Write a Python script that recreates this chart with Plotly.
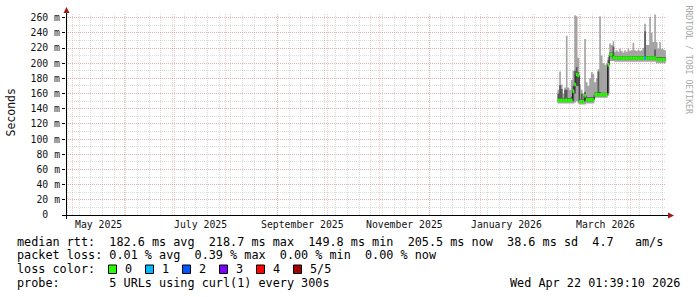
import datetime as dt
import plotly.graph_objects as go

# ---------------- data ----------------
DATA_START = dt.date(2026, 2, 16)   # first daily sample
RANGE_START = dt.datetime(2025, 4, 27, 1, 39, 10)
RANGE_END = dt.datetime(2026, 4, 22, 1, 39, 10)

median_ms = [151, 151, 151, 151, 151, 151, 151, 151, 151, 163,
             172, 185, 184, 149.5, 149.5, 149.5, 157, 151.7, 151.7, 151.7,
             151.7, 151.7, 158.5, 158.5, 158.5, 158.5, 158.5, 158.5, 158.5, 158.5,
             198, 211, 211, 207, 206.7, 206.7, 206.7, 206.7, 206.7, 206.7,
             206.7, 206.7, 206.7, 206.7, 206.7, 206.7, 206.7, 206.7, 206.7, 206.7,
             206.7, 206.7, 206.7, 206.7, 206.7, 206.7, 206.7, 206.7, 206.7, 205,
             205, 205, 205, 205, 205]
ping_min_ms = [147, 147, 147, 147, 147, 147, 147, 147, 147, 147,
               148, 150, 147, 145.5, 145.5, 145.5, 145.5, 147, 147, 147,
               147, 147, 154.5, 154.5, 154.5, 154.5, 154.5, 154.5, 154.5, 154.5,
               157, 203, 203, 203, 202, 202, 202, 202, 202, 202,
               202, 202, 202, 202, 202, 202, 202, 202, 202, 202,
               202, 202, 202, 202, 202, 202, 202, 202, 202, 200,
               200, 200, 200, 200, 200]
ping_max_ms = [165, 189, 172, 160, 168, 236, 168, 165, 178, 190,
               263, 262, 207, 172, 165, 160, 232, 175, 170, 180,
               188, 186, 175, 180, 192, 262, 210, 200, 198, 199,
               208, 226, 224, 229, 215, 217, 215, 219, 216, 214,
               217, 215, 219, 216, 217, 227, 217, 216, 218, 216,
               217, 220, 252, 224, 224, 261, 240, 228, 264, 228,
               219, 228, 219, 218, 217]
inner_lo_ms = [149, 149, 149, 149, 149, 149, 149, 149, 149, 150,
               160, 170, 170, 147.5, 147.5, 147.5, 150, 149.5, 149.5, 149.5,
               149.5, 149.5, 156.5, 156.5, 156.5, 156.5, 156.5, 156.5, 156.5, 156.5,
               160, 208, 208, 204.5, 204.5, 204.5, 204.5, 204.5, 204.5, 204.5,
               204.5, 204.5, 204.5, 204.5, 204.5, 204.5, 204.5, 204.5, 204.5, 204.5,
               204.5, 204.5, 205, 204.5, 204.5, 204.5, 204.5, 204.5, 204.5, 203,
               203, 203, 203, 203, 203]
inner_hi_ms = [160, 171, 166, 154, 165, 165, 154, 154, 156, 170,
               190, 195, 188, 152.5, 160, 152.5, 162, 155, 155, 155,
               155, 155, 161.5, 161.5, 189, 162, 161, 161, 161, 161,
               204, 214, 214, 222, 209.5, 209.5, 209.5, 209.5, 209.5, 209.5,
               209.5, 209.5, 209.5, 209.5, 209.5, 209.5, 209.5, 209.5, 209.5, 209.5,
               209.5, 209.5, 242, 209.5, 209.5, 209.5, 209.5, 209.5, 218, 208,
               208, 208, 208, 208, 208]
loss_count = [0] * 52 + [1] + [0] * 12

y_ticks = list(range(0, 261, 20))
y_tick_text = ["0\u00a0\u00a0"] + [f"{v}\u00a0m" for v in y_ticks[1:]]
month_labels = [("2025-05", "May 2025"), ("2025-07", "July 2025"), ("2025-09", "September 2025"),
                ("2025-11", "November 2025"), ("2026-01", "January 2026"), ("2026-03", "March 2026")]
loss_colors = ["#26ff00", "#00b8ff", "#0059ff", "#7e00ff", "#ff0000", "#a10000"]
loss_names = ["0", "1", "2", "3", "4", "5/5"]

legend_lines = [
    "median rtt:  182.6 ms avg  218.7 ms max  149.8 ms min  205.5 ms now  38.6 ms sd  4.7   am/s",
    "packet loss: 0.01 % avg  0.39 % max  0.00 % min  0.00 % now",
    "loss color:",
    "probe:       5 URLs using curl(1) every 300s",
]
stamp = "Wed Apr 22 01:39:10 2026"

# ---------------- geometry ----------------
W, H = 697, 297
L, R, T, B = 66, 666, 14, 215
Y_MAX = 264.8


def px(x):
    return (x - L) / (R - L)


def py(y):
    return (B - y) / (B - T)


MONO = "DejaVu Sans Mono"

n = len(median_ms)
days = [dt.datetime.combine(DATA_START, dt.time()) + dt.timedelta(days=i) for i in range(n + 1)]


def ext(v):
    return list(v) + [v[-1]]


fig = go.Figure()
# smoke outer
fig.add_trace(go.Scatter(x=days, y=ext(ping_min_ms), mode="lines",
                         line=dict(width=0, shape="hv"), hoverinfo="skip", showlegend=False))
fig.add_trace(go.Scatter(x=days, y=ext(ping_max_ms), mode="lines",
                         line=dict(width=0, shape="hv"), fill="tonexty", fillcolor="#a4a4a4",
                         hoverinfo="skip", showlegend=False))
# smoke inner
fig.add_trace(go.Scatter(x=days, y=ext(inner_lo_ms), mode="lines",
                         line=dict(width=0, shape="hv"), hoverinfo="skip", showlegend=False))
fig.add_trace(go.Scatter(x=days, y=ext(inner_hi_ms), mode="lines",
                         line=dict(width=0, shape="hv"), fill="tonexty", fillcolor="#585858",
                         hoverinfo="skip", showlegend=False))
# black median transitions
vx, vy = [], []
for i in range(1, n):
    if median_ms[i] != median_ms[i - 1]:
        vx += [days[i], days[i], None]
        vy += [median_ms[i - 1], median_ms[i], None]
fig.add_trace(go.Scatter(x=vx, y=vy, mode="lines", line=dict(width=1, color="#202020"),
                         hoverinfo="skip", showlegend=False))
# loss coloured median bands
for lvl, col in enumerate(loss_colors):
    sx, sy = [], []
    for i in range(n):
        if loss_count[i] == lvl:
            sx += [days[i], days[i + 1], None]
            sy += [median_ms[i], median_ms[i], None]
    if sx:
        fig.add_trace(go.Scatter(x=sx, y=sy, mode="lines", line=dict(width=3.5, color=col),
                                 hoverinfo="skip", showlegend=False))

# month grid
month_starts = []
y_, m_ = 2025, 5
while dt.datetime(y_, m_, 1) < RANGE_END:
    month_starts.append(dt.datetime(y_, m_, 1))
    m_ += 1
    if m_ > 12:
        m_, y_ = 1, y_ + 1

GRID_RED = "rgba(230,90,90,0.32)"
GRID_GRAY = "rgba(140,140,140,0.3)"

fig.update_layout(
    width=W, height=H,
    margin=dict(l=L, r=W - R, t=T, b=H - B),
    paper_bgcolor="white", plot_bgcolor="white",
    showlegend=False,
    xaxis=dict(type="date", range=[RANGE_START, RANGE_END], tickmode="array",
               tickvals=month_starts, showticklabels=False, ticks="",
               showgrid=True, gridcolor=GRID_RED, griddash="1px,1px", gridwidth=1,
               minor=dict(dtick=7 * 86400000, tick0="2025-04-28", showgrid=True,
                          gridcolor=GRID_GRAY, griddash="1px,1px", gridwidth=1),
               zeroline=False, showline=False, fixedrange=True),
    yaxis=dict(range=[0, Y_MAX], tickmode="array", tickvals=y_ticks, ticktext=y_tick_text,
               ticks="outside", ticklen=3, tickcolor="#000", tickwidth=1, ticklabelstandoff=0,
               tickfont=dict(family=MONO, size=9.8, color="#111"),
               showgrid=True, gridcolor=GRID_RED, griddash="1px,1px", gridwidth=1,
               minor=dict(dtick=10, showgrid=True, gridcolor=GRID_GRAY, griddash="1px,1px", gridwidth=1),
               zeroline=False, showline=False, fixedrange=True),
)

shapes = [
    dict(type="line", xref="paper", yref="paper", x0=px(63), x1=px(669), y0=py(215.5), y1=py(215.5),
         line=dict(color="black", width=1)),
    dict(type="line", xref="paper", yref="paper", x0=px(66.5), x1=px(66.5), y0=py(219), y1=py(12),
         line=dict(color="black", width=1)),
    dict(type="path", xref="paper", yref="paper",
         path=f"M {px(63.5)} {py(13)} L {px(69.5)} {py(13)} L {px(66.5)} {py(7)} Z",
         fillcolor="#9b1c1c", line=dict(width=0)),
    dict(type="path", xref="paper", yref="paper",
         path=f"M {px(668)} {py(212.5)} L {px(668)} {py(218.5)} L {px(674)} {py(215.5)} Z",
         fillcolor="#9b1c1c", line=dict(width=0)),
]

annotations = []
# month labels centred mid-month
for ym, label in month_labels:
    yy, mm = map(int, ym.split("-"))
    a = dt.datetime(yy, mm, 1)
    b = dt.datetime(yy + (mm // 12), mm % 12 + 1, 1)
    mid = a + (b - a) / 2
    annotations.append(dict(x=mid, xref="x", y=py(224.5), yref="paper", text=label, showarrow=False,
                            xanchor="center", yanchor="middle",
                            font=dict(family=MONO, size=9.8, color="#111")))
annotations.append(dict(x=px(10.5), y=py(113), xref="paper", yref="paper", text="Seconds",
                        textangle=-90, showarrow=False, xanchor="center", yanchor="middle",
                        font=dict(family=MONO, size=11.5, color="#111")))
annotations.append(dict(x=px(688.5), y=py(60), xref="paper", yref="paper", text="RRDTOOL / TOBI OETIKER",
                        textangle=90, showarrow=False, xanchor="center", yanchor="middle",
                        font=dict(family=MONO, size=8.2, color="#a8a8a8")))
row_y = [241.5, 255.2, 269.2, 283.2]
for txt, yy in zip(legend_lines, row_y):
    annotations.append(dict(x=px(15), y=py(yy), xref="paper", yref="paper",
                            text=txt.replace(" ", "\u00a0"), showarrow=False,
                            xanchor="left", yanchor="middle",
                            font=dict(family=MONO, size=11.8, color="black")))
annotations.append(dict(x=px(682), y=py(row_y[3]), xref="paper", yref="paper",
                        text=stamp.replace(" ", "\u00a0"), showarrow=False,
                        xanchor="right", yanchor="middle",
                        font=dict(family=MONO, size=11.8, color="black")))
for k, (col, name) in enumerate(zip(loss_colors, loss_names)):
    x0 = 108.5 + 37 * k
    shapes.append(dict(type="rect", xref="paper", yref="paper", x0=px(x0), x1=px(x0 + 8),
                       y0=py(265), y1=py(273.5), fillcolor=col, line=dict(color="black", width=1)))
    annotations.append(dict(x=px(x0 + 14), y=py(row_y[2]), xref="paper", yref="paper",
                            text=name, showarrow=False, xanchor="left", yanchor="middle",
                            font=dict(family=MONO, size=11.8, color="black")))

fig.update_layout(shapes=shapes, annotations=annotations)
fig.write_html("out.html")
